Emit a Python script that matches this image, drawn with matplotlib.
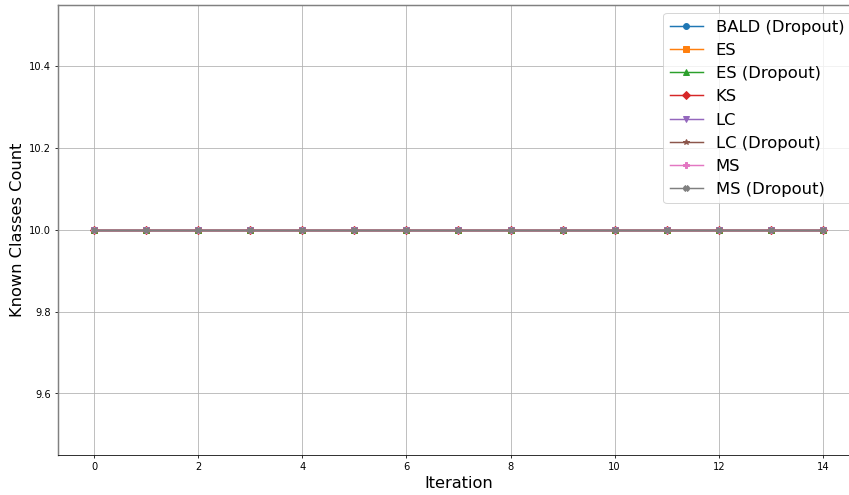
import matplotlib
matplotlib.use("Agg")
import matplotlib.pyplot as plt

iterations = list(range(15))
methods = ['BALD (Dropout)', 'ES', 'ES (Dropout)', 'KS', 'LC', 'LC (Dropout)', 'MS', 'MS (Dropout)']
known_counts = {
    'BALD (Dropout)': [10] * 15,
    'ES': [10] * 15,
    'ES (Dropout)': [10] * 15,
    'KS': [10] * 15,
    'LC': [10] * 15,
    'LC (Dropout)': [10] * 15,
    'MS': [10] * 15,
    'MS (Dropout)': [10] * 15,
}
markers = ['o', 's', '^', 'D', 'v', '*', 'P', 'X']

fig, ax = plt.subplots(figsize=(12, 7), dpi=70.75)
for m, mk in zip(methods, markers):
    ax.plot(iterations, known_counts[m], marker=mk, label=m)

ax.set_xlabel('Iteration', fontsize=16.5)
ax.set_ylabel('Known Classes Count', fontsize=16.5)
ax.grid(True)
ax.legend(fontsize=16.7, loc='upper right')
for s in ['left', 'top']:
    ax.spines[s].set_color('gray')
    ax.spines[s].set_linewidth(1.5)

# axes runs a little past the right edge of the figure, as in the original
fig.subplots_adjust(left=0.068, right=1.012, top=0.99, bottom=0.081)
fig.savefig('out.png')
